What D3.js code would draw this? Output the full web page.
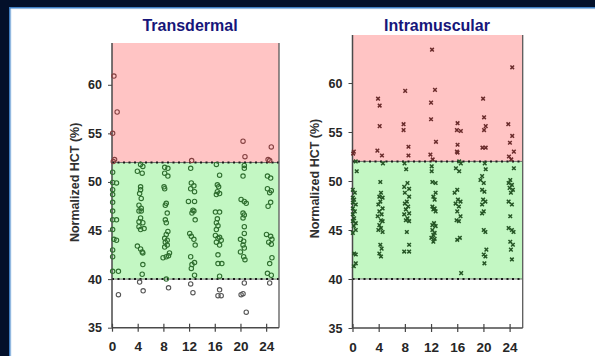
<!DOCTYPE html>
<html><head><meta charset="utf-8">
<script src="https://cdn.jsdelivr.net/npm/d3@7"></script>
<style>
html,body{margin:0;padding:0;background:#03102a;width:595px;height:356px;overflow:hidden;}
svg{display:block;}
</style></head>
<body>
<svg id="c" width="595" height="356"></svg>
<script>
// ---- data (hour, normalized HCT %) ----
const panelTitles = ["Transdermal", "Intramuscular"];
const axisLabel = "Normalized HCT (%)";
const xTicks = [0, 4, 8, 12, 16, 20, 24];
const yTicks = [35, 40, 45, 50, 55, 60];
const thresholds = [40, 52];

const transdermal = [
  [0.3,60.9],[0.8,57.2],[0.1,55.0],[0.4,52.3],[0.2,52.1],[0.1,51.0],[0.1,49.95],[0.7,49.9],[0.1,49.2],[0.1,48.7],[0.1,47.9],[0.1,47.0],[0.7,46.1],[0.1,46.1],[0.1,45.1],[0.3,44.1],[0.7,44.0],[0.1,43.0],[0.1,42.3],[0.1,40.8],[1.0,40.8],[1.0,38.4],
  [4.45,51.8],[4.8,51.6],[3.95,51.1],[4.7,50.9],[4.45,49.5],[4.45,49.2],[4.3,48.8],[4.55,48.3],[4.2,47.6],[4.55,47.3],[4.2,47.0],[4.55,47.0],[4.45,46.3],[4.2,45.9],[4.8,45.8],[4.2,45.4],[5.0,45.2],[4.45,45.1],[3.95,43.4],[4.45,43.1],[4.7,42.8],[4.8,42.7],[4.8,41.5],[4.7,40.5],[4.3,39.7],[4.85,38.8],
  [8.2,51.5],[8.7,51.4],[8.2,50.9],[8.7,50.6],[8.1,49.5],[8.2,49.3],[8.45,47.8],[8.3,47.6],[8.6,46.8],[8.3,46.1],[8.45,45.8],[8.7,44.9],[8.45,44.6],[8.2,44.2],[8.6,44.0],[8.3,43.8],[8.6,43.5],[8.2,43.3],[7.95,42.2],[8.45,42.3],[8.8,42.4],[8.95,42.7],[8.45,40.0],[8.8,39.1],
  [12.4,52.2],[12.25,51.4],[12.35,49.9],[12.75,49.6],[12.25,49.3],[12.85,49.0],[11.9,48.0],[12.85,48.0],[12.6,47.1],[12.45,46.8],[12.75,47.0],[12.95,46.1],[12.1,44.7],[12.35,44.4],[12.75,44.1],[12.95,43.5],[12.25,42.3],[12.85,41.7],[12.45,41.5],[12.35,41.1],[12.85,40.4],[12.25,39.5],[12.6,38.6],
  [16.25,51.8],[16.75,50.7],[16.4,49.7],[16.6,49.5],[16.4,49.0],[16.75,48.8],[16.25,48.7],[16.1,46.9],[16.75,46.9],[16.4,46.2],[16.25,45.8],[16.5,45.5],[16.25,45.1],[16.1,44.5],[16.5,44.2],[16.75,44.3],[17.0,44.0],[16.25,43.8],[16.75,43.5],[16.5,42.5],[16.5,41.6],[17.1,41.6],[16.75,40.3],[16.75,38.9],[16.5,38.3],[17.0,38.3],
  [20.4,54.2],[20.7,52.6],[20.6,51.7],[20.6,51.4],[20.4,50.6],[20.1,48.2],[20.6,48.0],[20.9,47.8],[20.4,46.8],[20.6,46.6],[20.4,46.3],[20.6,45.4],[20.6,44.7],[20.0,44.1],[20.5,43.9],[20.4,43.5],[20.6,43.2],[20.0,42.8],[20.5,42.3],[20.7,42.0],[20.6,39.6],[20.1,38.4],[20.4,38.5],[20.9,36.6],
  [24.8,53.6],[24.55,52.2],[24.3,52.3],[24.2,50.6],[24.7,50.4],[24.2,49.3],[24.8,49.1],[24.55,48.9],[24.7,47.9],[24.3,47.5],[24.05,44.6],[24.7,44.4],[24.9,44.1],[24.4,43.8],[24.8,43.6],[24.9,42.2],[24.55,41.6],[24.2,40.6],[24.8,40.4],[24.55,39.6]
];

const intramuscular = [
  [0.2,53.0],[0.1,52.8],[0.5,52.0],[0.65,51.0],[0.05,49.1],[0.35,48.8],[0.05,48.3],[0.25,48.1],[0.05,47.8],[0.5,47.6],[0.05,47.2],[0.35,46.9],[0.05,46.6],[0.25,46.2],[0.05,45.9],[0.5,45.7],[0.2,45.4],[0.5,45.0],[0.05,44.7],[0.25,42.6],[0.5,42.5],[0.5,41.6],[0.2,41.3],
  [3.9,58.4],[4.15,57.7],[4.15,55.6],[3.8,53.1],[4.5,52.6],[4.65,51.8],[4.25,49.9],[4.35,48.8],[4.1,48.4],[4.6,48.3],[4.25,47.9],[3.95,47.6],[4.6,47.2],[4.1,46.9],[4.45,46.6],[3.85,46.4],[4.35,46.0],[4.6,45.9],[4.1,45.5],[4.35,45.2],[3.95,45.0],[4.6,44.8],[4.25,43.5],[4.45,43.1],[4.1,42.6],[4.35,42.3],
  [8.05,59.2],[7.8,55.8],[7.8,55.2],[8.55,53.5],[8.55,52.6],[7.95,51.8],[8.2,51.2],[8.4,49.8],[7.9,49.4],[8.65,49.2],[8.0,48.8],[8.65,48.4],[8.3,47.9],[8.0,47.7],[8.5,47.4],[8.15,47.1],[8.65,46.7],[7.9,46.6],[8.4,46.2],[8.15,46.0],[8.65,45.9],[8.3,44.8],[8.65,43.5],[7.9,42.8],[8.65,42.8],
  [12.15,63.4],[12.6,59.3],[12.0,58.0],[12.0,56.3],[12.75,54.0],[11.9,52.7],[12.25,52.2],[12.1,51.5],[12.1,51.0],[12.2,49.9],[12.7,49.8],[12.7,48.8],[12.35,48.4],[12.55,48.1],[12.2,47.4],[12.55,47.2],[12.35,47.1],[12.7,46.9],[12.45,45.7],[12.2,45.5],[12.7,45.4],[12.2,45.0],[12.55,44.7],[12.35,44.5],[12.05,44.2],[12.55,44.1],[12.35,43.8],
  [16.05,55.9],[15.95,55.2],[16.55,55.1],[16.05,53.7],[15.95,53.0],[16.05,52.9],[16.3,52.0],[16.55,51.8],[15.8,51.3],[16.3,51.0],[16.0,49.1],[15.6,48.8],[16.1,48.1],[16.5,47.9],[15.75,47.7],[16.25,47.4],[16.0,46.9],[16.5,46.4],[15.9,46.0],[16.25,45.9],[16.0,44.0],[16.4,44.2],[16.6,40.6],
  [19.95,58.4],[20.1,56.5],[20.35,55.6],[20.1,55.2],[19.85,53.4],[20.35,53.4],[20.2,51.8],[20.35,51.2],[19.8,50.5],[19.55,50.1],[20.05,49.8],[19.8,49.1],[20.15,48.9],[19.95,48.1],[20.3,47.9],[19.8,47.6],[20.05,46.9],[19.8,46.7],[20.05,45.0],[20.3,44.8],[20.45,43.0],[20.05,42.5],[20.3,42.3],[20.15,41.6],
  [24.4,61.6],[23.8,55.8],[24.4,54.6],[24.05,53.9],[24.65,53.0],[23.9,52.5],[24.25,52.2],[24.65,51.3],[24.1,50.1],[23.85,49.8],[24.35,49.6],[24.0,49.3],[24.5,49.1],[24.2,48.8],[23.85,47.9],[24.35,47.6],[24.1,46.4],[23.85,45.2],[24.35,45.0],[24.6,44.8],[24.1,43.8],[24.5,43.5],[24.2,43.0],[24.35,42.0]
];

// ---- drawing ----
const svg = d3.select("#c");
// white slide panel with blue edge
svg.append("rect").attr("x",0).attr("y",0).attr("width",595).attr("height",356).attr("fill","#03102a");
svg.append("rect").attr("x",9).attr("y",7).attr("width",586).attr("height",349).attr("fill","#3f7fc4");
svg.append("rect").attr("x",10.5).attr("y",8.5).attr("width",585).attr("height",348).attr("fill","#eaf3fb");
svg.append("rect").attr("x",12).attr("y",9.5).attr("width",583).attr("height",347).attr("fill","#ffffff");

const panels = [
  {title: panelTitles[0], data: transdermal, marker: "circle",
   xr: [112, 279], yr: [327.7, 43], ytop: 64.3, titleX: 190, labelX: 74},
  {title: panelTitles[1], data: intramuscular, marker: "cross",
   xr: [352.5, 522.7], yr: [328, 35], ytop: 64.9, titleX: 437, labelX: 314}
];

function markerColor(v, kind){
  if (v > thresholds[1]) return kind === "circle" ? "#844040" : "#6a2c2c";
  if (v >= thresholds[0]) return kind === "circle" ? "#2f6e2f" : "#255525";
  return "#555555";
}

panels.forEach(p => {
  const x = d3.scaleLinear().domain([0, 26]).range(p.xr);
  const y = d3.scaleLinear().domain([35, p.ytop]).range(p.yr);
  const g = svg.append("g");
  const x0 = x(0), x1 = x(26);

  // regions
  g.append("rect").attr("x", x0).attr("width", x1 - x0)
    .attr("y", y(p.ytop)).attr("height", y(thresholds[1]) - y(p.ytop)).attr("fill", "#ffc4c4");
  g.append("rect").attr("x", x0).attr("width", x1 - x0)
    .attr("y", y(thresholds[1])).attr("height", y(thresholds[0]) - y(thresholds[1])).attr("fill", "#c3f7c3");

  // threshold lines
  thresholds.forEach(t => {
    g.append("line").attr("x1", x0).attr("x2", x1).attr("y1", y(t)).attr("y2", y(t))
      .attr("stroke", "#555").attr("stroke-width", 0.8);
    g.append("line").attr("x1", x0).attr("x2", x1).attr("y1", y(t)).attr("y2", y(t))
      .attr("stroke", "#1a1a1a").attr("stroke-width", 2).attr("stroke-dasharray", "2,3.5");
  });

  // frame lines
  g.append("line").attr("x1", x0).attr("x2", x0).attr("y1", y(p.ytop)).attr("y2", y(35))
    .attr("stroke", "#4a4a4a").attr("stroke-width", 1.5);
  g.append("line").attr("x1", x1).attr("x2", x1).attr("y1", y(p.ytop)).attr("y2", y(35))
    .attr("stroke", "#5a5a5a").attr("stroke-width", 1.3);

  // y axis
  const ya = g.append("g").attr("transform", `translate(${x0},0)`)
    .call(d3.axisLeft(y).tickValues(yTicks).tickSize(4).tickPadding(6));
  ya.select(".domain").remove();
  ya.selectAll("line").attr("stroke", "#444");
  ya.selectAll("text").attr("font-family", "Arial, 'Liberation Sans', sans-serif")
    .attr("font-weight", "bold").attr("font-size", "12.5px").attr("fill", "#262626");

  // x axis
  const xa = g.append("g").attr("transform", `translate(0,${y(35)})`)
    .call(d3.axisBottom(x).tickValues(xTicks).tickSize(4).tickPadding(6));
  xa.select(".domain").attr("d", `M${x0},0H${x1}`).attr("stroke", "#4a4a4a").attr("stroke-width", 1.5);
  xa.selectAll(".tick line").attr("y1", -4).attr("y2", 4).attr("stroke", "#444").attr("stroke-width", 1.2);
  xa.selectAll("text").attr("y", 14).attr("dy", "0.71em")
    .attr("font-family", "Arial, 'Liberation Sans', sans-serif")
    .attr("font-weight", "bold").attr("font-size", "13.5px").attr("fill", "#262626");

  // markers
  if (p.marker === "circle") {
    g.selectAll("circle.pt").data(p.data).join("circle").attr("class", "pt")
      .attr("cx", d => x(d[0])).attr("cy", d => y(d[1])).attr("r", 2.2)
      .attr("fill", "none").attr("stroke", d => markerColor(d[1], "circle")).attr("stroke-width", 1.1);
  } else {
    const s = 1.8;
    g.selectAll("path.pt").data(p.data).join("path").attr("class", "pt")
      .attr("d", d => {
        const cx = x(d[0]), cy = y(d[1]);
        return `M${cx-s},${cy-s}L${cx+s},${cy+s}M${cx-s},${cy+s}L${cx+s},${cy-s}`;
      })
      .attr("stroke", d => markerColor(d[1], "cross")).attr("stroke-width", 1.5).attr("fill", "none");
  }

  // title
  svg.append("text").attr("x", p.titleX).attr("y", 31).attr("text-anchor", "middle")
    .attr("font-family", "Arial, 'Liberation Sans', sans-serif").attr("font-weight", "bold")
    .attr("font-size", "16px").attr("fill", "#16167a").text(p.title);

  // y label
  svg.append("text").attr("transform", `translate(${p.labelX + 4.5},${(y(35) + y(p.ytop)) / 2 - 3}) rotate(-90)`)
    .attr("text-anchor", "middle")
    .attr("font-family", "Arial, 'Liberation Sans', sans-serif").attr("font-weight", "bold")
    .attr("font-size", "12.5px").attr("fill", "#303030").text(axisLabel);
});
</script>
</body></html>
